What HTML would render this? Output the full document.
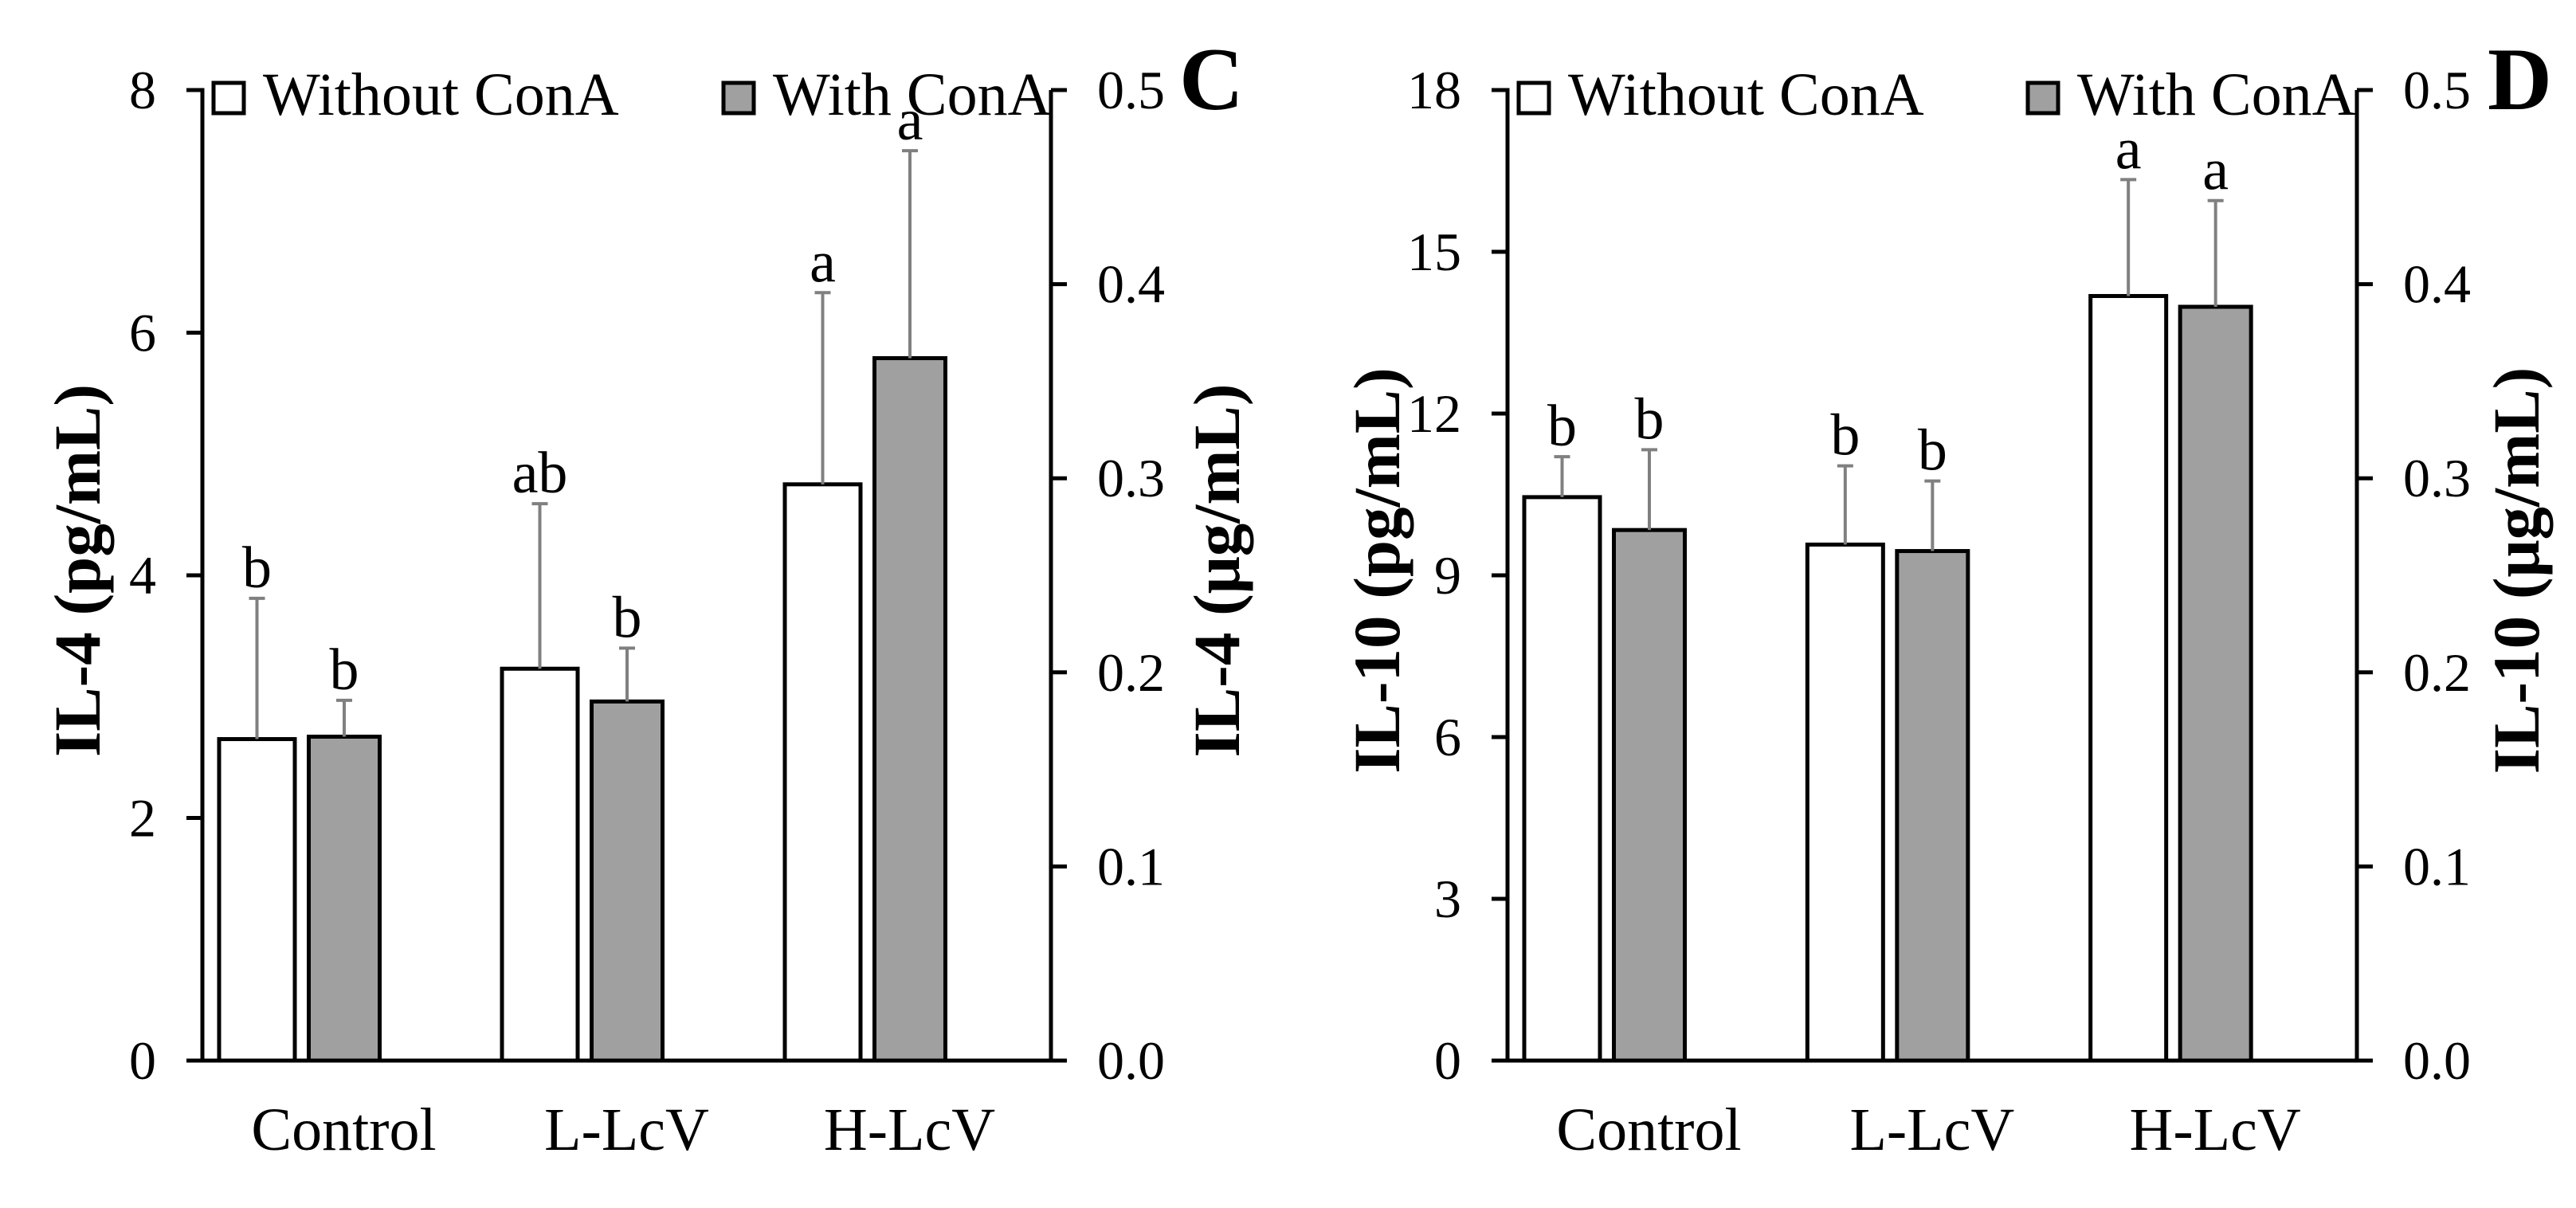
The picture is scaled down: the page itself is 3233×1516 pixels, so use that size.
<!DOCTYPE html>
<html><head><meta charset="utf-8"><style>
html,body{margin:0;padding:0;background:#fff;}
svg{display:block;font-family:"Liberation Serif",serif;}
</style></head><body>
<svg id="fig" width="3233" height="1516" viewBox="0 0 3233 1516" xmlns="http://www.w3.org/2000/svg"></svg>
<script>
const categories = ["Control", "L-LcV", "H-LcV"];
const il4Without = [2.65, 3.23, 4.75];
const il4With = [2.67, 2.96, 5.79];
const il4WithoutErr = [3.81, 4.59, 6.33];
const il4WithErr = [2.97, 3.40, 7.50];
const il4WithoutSig = ["b", "ab", "a"];
const il4WithSig = ["b", "b", "a"];
const il4LeftTicks = ["0", "2", "4", "6", "8"];
const il4RightTicks = ["0.0", "0.1", "0.2", "0.3", "0.4", "0.5"];
const il10Without = [10.45, 9.57, 14.18];
const il10With = [9.84, 9.45, 13.98];
const il10WithoutErr = [11.2, 11.03, 16.34];
const il10WithErr = [11.33, 10.75, 15.95];
const il10WithoutSig = ["b", "b", "a"];
const il10WithSig = ["b", "b", "a"];
const il10LeftTicks = ["0", "3", "6", "9", "12", "15", "18"];
const il10RightTicks = ["0.0", "0.1", "0.2", "0.3", "0.4", "0.5"];

const NS = "http://www.w3.org/2000/svg";
const fig = document.getElementById("fig");
function mk(tag, attrs, parent, text) {
  const e = document.createElementNS(NS, tag);
  for (const k in attrs) e.setAttribute(k, attrs[k]);
  if (text !== undefined) e.textContent = text;
  parent.appendChild(e);
  return e;
}

function chart(o) {
  const g = mk("g", {}, fig);
  
  
  const top = 113, base = 1331;
  const ymax = Number(o.leftTicks[o.leftTicks.length - 1]);
  const y = v => base - (v / ymax) * (base - top);
  const slot = (o.right - o.left) / categories.length;
  categories.forEach((c, i) => {
    const gc = o.left + slot * i + 121.5;
    const series = [[o.without, o.withoutErr, o.withoutSig, gc - 100.5, 95, "#ffffff", "without"], [o.with, o.withErr, o.withSig, gc + 12, 89, "#a0a0a0", "with"]];
    series.forEach(s => {
      const v = s[0][i], e = s[1][i], bx = s[3], bw = s[4];
      const r = mk("rect", {x: bx, y: y(v), width: bw, height: base - y(v), fill: s[5], stroke: "#000", "stroke-width": 5}, g);
      
      
      const mx = bx + bw / 2;
      const eb = mk("path", {d: `M${mx},${y(v)}V${y(e)}M${mx - 10},${y(e)}H${mx + 10}`, stroke: "#808080", "stroke-width": 4, fill: "none"}, g);
      
      
      const t = mk("text", {x: mx, y: y(e) - 14, "font-size": 74, "text-anchor": "middle"}, g, s[2][i]);
      
      
    });
    const cl = mk("text", {x: gc + 56, y: 1443, "font-size": 76, "text-anchor": "middle"}, g, c);
    
    
  });
  const ax = mk("path", {d: `M${o.left - 20},${top}H${o.left}V${base}H${o.right}`, stroke: "#000", "stroke-width": 5, fill: "none"}, g);
  
  
  o.leftTicks.forEach(t => {
    const ty = y(Number(t));
    const tk = mk("line", {x1: o.left - 20, x2: o.left, y1: ty, y2: ty, stroke: "#000", "stroke-width": 5}, g);
    
    
    const tl = mk("text", {x: o.left - 58, y: ty + 23, "font-size": 68, "text-anchor": "end"}, g, t);
    
    
  });
  const rmax = Number(o.rightTicks[o.rightTicks.length - 1]);
  const ra = mk("line", {x1: o.right, x2: o.right, y1: top, y2: base, stroke: "#000", "stroke-width": 5}, g);
  
  
  o.rightTicks.forEach(t => {
    const ty = base - Number(t) / rmax * (base - top);
    const tk = mk("line", {x1: o.right, x2: o.right + 20, y1: ty, y2: ty, stroke: "#000", "stroke-width": 5}, g);
    
    
    const tl = mk("text", {x: o.right + 58, y: ty + 23, "font-size": 68}, g, t);
    
    
  });
  const lt = mk("text", {x: o.ltx, y: 716, "font-size": 83, "font-weight": "bold", "text-anchor": "middle", transform: `rotate(-90 ${o.ltx} 716)`, dy: 28}, g, o.leftTitle);
  
  
  const rt = mk("text", {x: o.rtx, y: 716, "font-size": 83, "font-weight": "bold", "text-anchor": "middle", transform: `rotate(-90 ${o.rtx} 716)`, dy: 28}, g, o.rightTitle);
  
  
  const pl = mk("text", {x: o.panelX, y: 137, "font-size": 112, "font-weight": "bold"}, g, o.panel);
  
  
  const lg = mk("g", {}, g);
  
  
  const b1 = mk("rect", {x: o.lg1, y: 104, width: 38, height: 38, fill: "#fff", stroke: "#000", "stroke-width": 5}, lg);
  
  
  const t1 = mk("text", {x: o.lg1 + 62, y: 144, "font-size": 76}, lg, "Without ConA");
  
  
  const b2 = mk("rect", {x: o.lg2, y: 104, width: 38, height: 38, fill: "#a0a0a0", stroke: "#000", "stroke-width": 5}, lg);
  
  
  const t2 = mk("text", {x: o.lg2 + 62, y: 144, "font-size": 76}, lg, "With ConA");
  
  
}

chart({name: "il4-chart", left: 254, right: 1319, without: il4Without, with: il4With, withoutErr: il4WithoutErr, withErr: il4WithErr, withoutSig: il4WithoutSig, withSig: il4WithSig, leftTicks: il4LeftTicks, rightTicks: il4RightTicks, leftTitle: "IL-4 (pg/mL)", rightTitle: "IL-4 (μg/mL)", ltx: 97, rtx: 1527, panel: "C", panelX: 1480, lg1: 268, lg2: 908});
chart({name: "il10-chart", left: 1892, right: 2958, without: il10Without, with: il10With, withoutErr: il10WithoutErr, withErr: il10WithErr, withoutSig: il10WithoutSig, withSig: il10WithSig, leftTicks: il10LeftTicks, rightTicks: il10RightTicks, leftTitle: "IL-10 (pg/mL)", rightTitle: "IL-10 (μg/mL)", ltx: 1728, rtx: 3158, panel: "D", panelX: 3122, lg1: 1906, lg2: 2545});
</script>
</body></html>
